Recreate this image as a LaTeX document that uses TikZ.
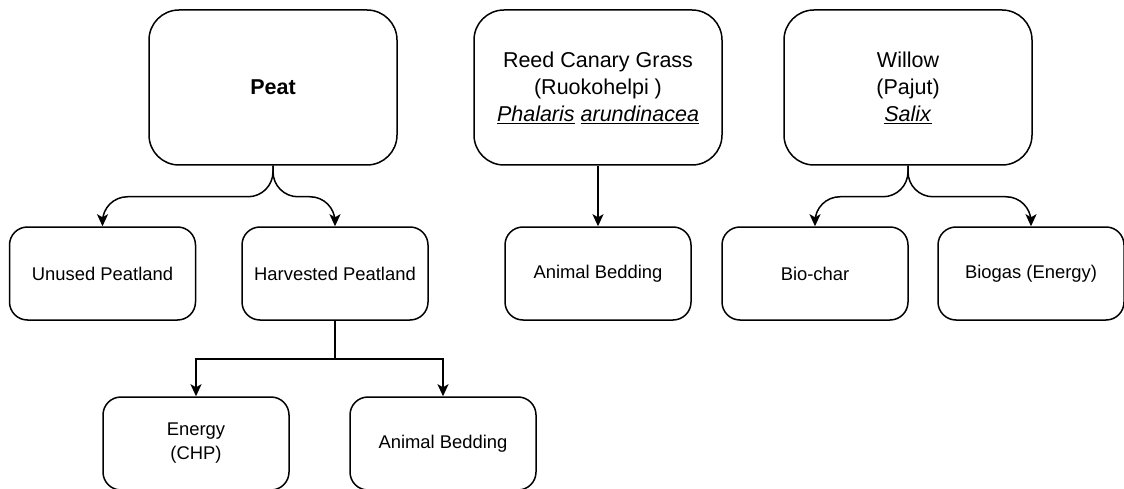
\documentclass[tikz,border=0pt]{standalone}
\usepackage{fontspec}
\setmainfont{Liberation Sans}
\usetikzlibrary{arrows.meta}
\tikzstyle{line} = [draw, line width=1.5pt, -{Stealth[length=12pt,width=11pt,inset=3pt]}]
\tikzstyle{bigbox} = [draw, rectangle, rounded corners=30pt, line width=1.5pt, minimum width=248pt, minimum height=155pt, align=center, font=\fontsize{21.5}{27}\selectfont]
\tikzstyle{block} = [draw, rectangle, rounded corners=18pt, line width=1.5pt, minimum width=186pt, minimum height=93pt, align=center, font=\fontsize{18.4}{24}\selectfont]

\begin{document}
\begin{tikzpicture}[x=1pt, y=-1pt]
    \useasboundingbox (0,0) rectangle (1124,489);
    % top row
    \node [bigbox] (peat) at (273,87.5) {\textbf{Peat}};
    \node [bigbox] (reed) at (598,87.5) {Reed Canary Grass\\(Ruokohelpi )\\\underline{\textit{Phalaris}} \underline{\textit{arundinacea}}};
    \node [bigbox] (willow) at (908,87.5) {Willow\\(Pajut)\\\underline{\textit{Salix}}};
    % second row
    \node [block] (unused) at (102.5,273.5) {Unused Peatland};
    \node [block] (harv) at (335,273.5) {Harvested Peatland};
    \node [block] (bedding1) at (598,273.5) {Animal Bedding};
    \node [block] (biochar) at (815,273.5) {Bio-char};
    \node [block] (biogas) at (1031,273.5) {Biogas (Energy)};
    % third row
    \node [block] (energy) at (196,443.5) {Energy\\(CHP)};
    \node [block] (bedding2) at (443,443.5) {Animal Bedding};
    % connectors
    \path [line, rounded corners=25pt] (peat.south) -- ++(0,31) -| (unused.north);
    \path [line, rounded corners=25pt] (peat.south) -- ++(0,31) -| (harv.north);
    \path [line] (reed.south) -- (bedding1.north);
    \path [line, rounded corners=25pt] (willow.south) -- ++(0,31) -| (biochar.north);
    \path [line, rounded corners=25pt] (willow.south) -- ++(0,31) -| (biogas.north);
    \path [line] (harv.south) -- ++(0,38) -| (energy.north);
    \path [line] (harv.south) -- ++(0,38) -| (bedding2.north);
\end{tikzpicture}
\end{document}
